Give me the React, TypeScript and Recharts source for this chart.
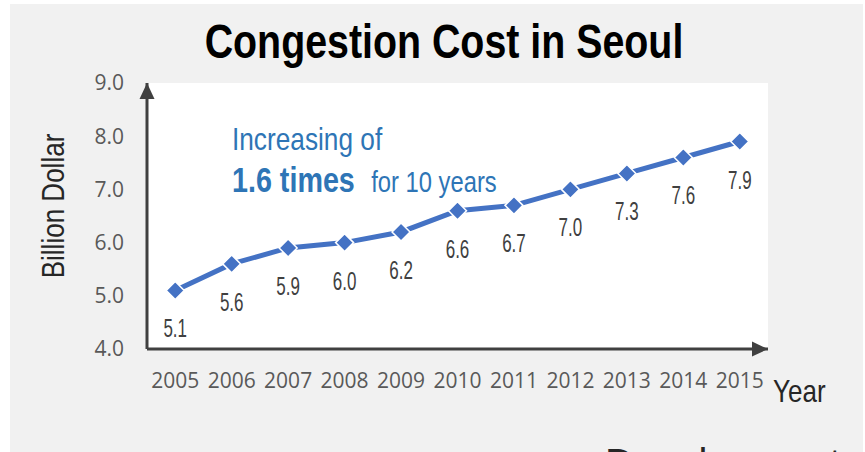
import { LineChart, Line, XAxis, YAxis, ReferenceArea, ReferenceDot } from 'recharts'

const years = [2005, 2006, 2007, 2008, 2009, 2010, 2011, 2012, 2013, 2014, 2015]
const costs = [5.1, 5.6, 5.9, 6.0, 6.2, 6.6, 6.7, 7.0, 7.3, 7.6, 7.9]
const yTicks = [4, 5, 6, 7, 8, 9]

const data = years.map((year, i) => ({ year, cost: costs[i] }))

const BLUE = '#4472C4'
const AXIS = '#404040'
const sans = '"Liberation Sans", Arial, sans-serif'

const Diamond = (props: any) => {
  const { cx, cy } = props
  if (cx == null || cy == null) return null
  const r = 9
  return (
    <polygon
      points={`${cx},${cy - r} ${cx + r},${cy} ${cx},${cy + r} ${cx - r},${cy}`}
      fill={BLUE}
      stroke="#fff"
      strokeWidth={1.5}
    />
  )
}

// condensed look for the value labels
const ValueLabel = (props: any) => {
  const { x, y, value } = props
  return (
    <text
      transform={`translate(${x} ${y + 47}) scale(0.68 1)`}
      textAnchor="middle"
      fill="#404040"
      fontSize={25}
      fontFamily={sans}
    >
      {Number(value).toFixed(1)}
    </text>
  )
}

const ArrowRight = (props: any) => {
  const { cx, cy } = props
  return <polygon points={`${cx},${cy} ${cx - 16},${cy - 7.5} ${cx - 16},${cy + 7.5}`} fill={AXIS} />
}

const ArrowUp = (props: any) => {
  const { cx, cy } = props
  return <polygon points={`${cx},${cy} ${cx - 7.5},${cy + 16} ${cx + 7.5},${cy + 16}`} fill={AXIS} />
}

export default function App() {
  return (
    <div style={{ position: 'absolute', left: 0, top: 0, width: 865, height: 452, overflow: 'hidden', background: '#fff' }}>
      <div style={{ position: 'absolute', left: 10, top: 4, width: 853, height: 448, background: '#f1f1f1' }} />
      <div style={{ position: 'absolute', left: 0, top: 0 }}>
        <LineChart width={865} height={452} data={data} margin={{ top: 83, right: 97, left: 0, bottom: 0 }}>
          <ReferenceArea x1={2004.5} x2={2015.5} y1={4} y2={9} fill="#ffffff" fillOpacity={1} stroke="none" />
          <XAxis
            dataKey="year"
            type="number"
            domain={[2004.5, 2015.5]}
            ticks={years}
            height={103}
            axisLine={{ stroke: AXIS, strokeWidth: 3 }}
            tickLine={false}
            tickMargin={18}
            tick={{ fill: '#595959', fontSize: 21, fontFamily: '"Open Sans", sans-serif' }}
          />
          <YAxis
            type="number"
            domain={[4, 9]}
            ticks={yTicks}
            width={147}
            axisLine={{ stroke: AXIS, strokeWidth: 3 }}
            tickLine={false}
            tickMargin={17}
            tickFormatter={(v: number) => v.toFixed(1)}
            tick={{ fill: '#595959', fontSize: 21, fontFamily: '"Open Sans", sans-serif' }}
          />
          <ReferenceDot x={2015.5} y={4} shape={ArrowRight} ifOverflow="visible" />
          <ReferenceDot x={2004.5} y={9} shape={ArrowUp} ifOverflow="visible" />
          <Line
            dataKey="cost"
            stroke={BLUE}
            strokeWidth={5}
            dot={<Diamond />}
            activeDot={false}
            label={<ValueLabel />}
            isAnimationActive={false}
          />
        </LineChart>
      </div>
      <svg width={865} height={452} style={{ position: 'absolute', left: 0, top: 0, pointerEvents: 'none' }}>
        <text
          transform="translate(444 58) scale(0.82 1)"
          textAnchor="middle"
          fontSize={48}
          fontWeight="bold"
          fontFamily={sans}
          fill="#000"
        >
          Congestion Cost in Seoul
        </text>
        <text
          transform="translate(64 206) rotate(-90) scale(0.84 1)"
          textAnchor="middle"
          fontSize={31}
          fontFamily={sans}
          fill="#262626"
        >
          Billion Dollar
        </text>
        <text transform="translate(773 402) scale(0.84 1)" fontSize={31} fontFamily={sans} fill="#262626">
          Year
        </text>
        <text transform="translate(232 150) scale(0.82 1)" fontSize={32} fontFamily={sans} fill="#2E75B6">
          Increasing of
        </text>
        <text transform="translate(232 192) scale(0.82 1)" fontFamily={sans} fill="#2E75B6">
          <tspan fontSize={35} fontWeight="bold">1.6 times</tspan>
          <tspan fontSize={29} dx={20}>for 10 years</tspan>
        </text>
        <text x={605} y={477} fontSize={40} fontFamily={sans} fill="#262626">
          Development
        </text>
      </svg>
    </div>
  )
}
